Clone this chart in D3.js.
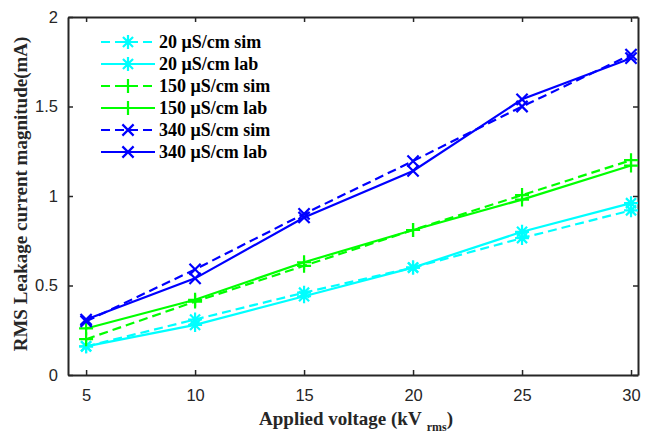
<!DOCTYPE html>
<html>
<head>
<meta charset="utf-8">
<script src="https://cdn.jsdelivr.net/npm/d3@7/dist/d3.min.js"></script>
<style>
  html, body { margin: 0; padding: 0; background: #fff; }
  svg { display: block; }
</style>
</head>
<body>
<svg id="chart" width="647" height="434"></svg>
<script>
// Applied voltage (kV rms)
const voltages = [5, 10, 15, 20, 25, 30];

// RMS leakage current (mA) per conductivity, simulation vs lab
const sim20  = [0.16, 0.31, 0.46, 0.60, 0.765, 0.92];
const lab20  = [0.16, 0.28, 0.44, 0.60, 0.80, 0.96];
const sim150 = [0.20, 0.41, 0.61, 0.81, 1.005, 1.20];
const lab150 = [0.26, 0.42, 0.63, 0.81, 0.98, 1.17];
const sim340 = [0.30, 0.59, 0.90, 1.195, 1.50, 1.79];
const lab340 = [0.31, 0.54, 0.88, 1.14, 1.54, 1.77];

const seriesNames = [
  "20 μS/cm sim", "20 μS/cm lab",
  "150 μS/cm sim", "150 μS/cm lab",
  "340 μS/cm sim", "340 μS/cm lab"
];
const seriesValues = [sim20, lab20, sim150, lab150, sim340, lab340];
const seriesColors = ["#00ffff", "#00ffff", "#00ff00", "#00ff00", "#0000ff", "#0000ff"];
const seriesDashed = [true, false, true, false, true, false];
const seriesMarker = ["asterisk", "asterisk", "plus", "plus", "cross", "cross"];

const xTicks = [5, 10, 15, 20, 25, 30];
const yTicks = [0, 0.5, 1, 1.5, 2];

const svg = d3.select("#chart");
const plotLeft = 68, plotRight = 638, plotTop = 17, plotBottom = 375;

const x = d3.scaleLinear().domain([4.17, 30.32]).range([plotLeft, plotRight]);
const y = d3.scaleLinear().domain([0, 2]).range([plotBottom, plotTop]);

const axisColor = "#262626";
const tickFont = "'Liberation Sans', Arial, sans-serif";
const serif = "'Liberation Serif', 'Times New Roman', serif";

// Axes with inward ticks, MATLAB-style box
const gx = svg.append("g").attr("transform", `translate(0,${plotBottom})`)
  .call(d3.axisBottom(x).tickValues(xTicks).tickSizeInner(-5).tickSizeOuter(0).tickPadding(14));
const gxTop = svg.append("g").attr("transform", `translate(0,${plotTop})`)
  .call(d3.axisTop(x).tickValues(xTicks).tickSizeInner(-5).tickSizeOuter(0).tickFormat(""));
const gy = svg.append("g").attr("transform", `translate(${plotLeft},0)`)
  .call(d3.axisLeft(y).tickValues(yTicks).tickSizeInner(-5).tickSizeOuter(0).tickPadding(10).tickFormat(d3.format("")));
const gyR = svg.append("g").attr("transform", `translate(${plotRight},0)`)
  .call(d3.axisRight(y).tickValues(yTicks).tickSizeInner(-5).tickSizeOuter(0).tickFormat(""));

[gx, gxTop, gy, gyR].forEach(g => {
  g.select(".domain").attr("stroke", axisColor).attr("stroke-width", 2);
  g.selectAll(".tick line").attr("stroke", axisColor).attr("stroke-width", 1.5);
  g.selectAll(".tick text").attr("fill", axisColor)
    .style("font-family", tickFont).style("font-size", "16.5px");
});

// Curves
const line = d3.line().x((d, i) => x(voltages[i])).y(d => y(d));

function drawMarker(g, type, cx, cy, color, s) {
  const p = d3.path();
  if (type === "plus" || type === "asterisk") {
    p.moveTo(cx - s, cy); p.lineTo(cx + s, cy);
    p.moveTo(cx, cy - s); p.lineTo(cx, cy + s);
  }
  if (type === "cross" || type === "asterisk") {
    const k = type === "asterisk" ? s * 0.72 : s * 0.8;
    p.moveTo(cx - k, cy - k); p.lineTo(cx + k, cy + k);
    p.moveTo(cx - k, cy + k); p.lineTo(cx + k, cy - k);
  }
  g.append("path").attr("d", p.toString())
    .attr("stroke", color).attr("stroke-width", 2.2).attr("fill", "none");
}

seriesValues.forEach((vals, si) => {
  const g = svg.append("g");
  g.append("path").datum(vals).attr("d", line)
    .attr("fill", "none").attr("stroke", seriesColors[si]).attr("stroke-width", 2.2)
    .attr("stroke-dasharray", seriesDashed[si] ? "9,5" : null);
  vals.forEach((v, i) => drawMarker(g, seriesMarker[si], x(voltages[i]), y(v), seriesColors[si], 7));
});

// Legend
const lg = svg.append("g");
seriesNames.forEach((name, i) => {
  const ly = 42 + i * 22;
  lg.append("line").attr("x1", 101).attr("x2", 155).attr("y1", ly).attr("y2", ly)
    .attr("stroke", seriesColors[i]).attr("stroke-width", 2.2)
    .attr("stroke-dasharray", seriesDashed[i] ? "9,5" : null);
  drawMarker(lg, seriesMarker[i], 128, ly, seriesColors[i], 7);
  lg.append("text").attr("x", 159).attr("y", ly + 6).text(name)
    .style("font-family", serif).style("font-weight", "bold").style("font-size", "18px").attr("fill", "#000");
});

// Axis titles
const xt = svg.append("text").attr("x", 356).attr("y", 425).attr("text-anchor", "middle")
  .style("font-family", serif).style("font-weight", "bold").style("font-size", "19px").attr("fill", "#262626");
xt.append("tspan").text("Applied voltage (kV");
xt.append("tspan").text("rms").attr("dx", 5).attr("dy", 6).style("font-size", "12px");
xt.append("tspan").text(")").attr("dy", -6);

svg.append("text")
  .attr("transform", `translate(27,194) rotate(-90)`)
  .attr("text-anchor", "middle")
  .style("font-family", serif).style("font-weight", "bold").style("font-size", "19px").attr("fill", "#262626")
  .text("RMS Leakage current magnitude(mA)");
</script>
</body>
</html>
